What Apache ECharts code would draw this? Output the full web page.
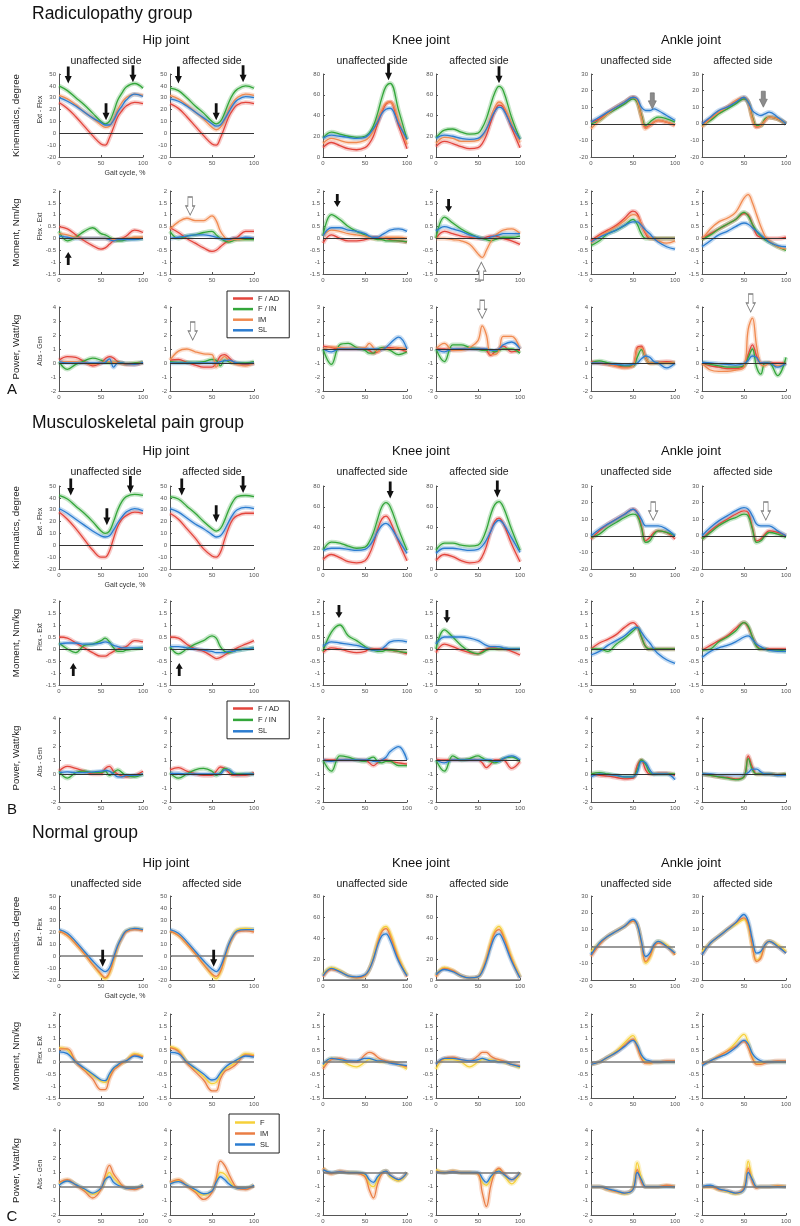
<!DOCTYPE html>
<html><head><meta charset="utf-8">
<script src="https://cdn.jsdelivr.net/npm/echarts@6/dist/echarts.min.js"></script>
<style>html,body{margin:0;padding:0;background:#fff}#c{width:800px;height:1226px}</style>
</head><body><div id="c"></div><script>
// ---------- x grid (gait cycle, %) ----------
const gaitPct = [0,10,20,30,40,50,55,60,65,70,75,80,90,100];

// ---------- tick labels ----------
const ticksGait = [0,50,100];
const ticksHipKin = [-20,-10,0,10,20,30,40,50];
const ticksKneeKin = [0,20,40,60,80];
const ticksAnkleKin = [-20,-10,0,10,20,30];
const ticksMoment = [-1.5,-1,-0.5,0,0.5,1,1.5,2];
const ticksHipPow = [-2,-1,0,1,2,3,4];
const ticksKneePow = [-3,-2,-1,0,1,2,3];
const ticksAnklePow = [-2,-1,0,1,2,3,4];

// ---------- series names ----------
const namesA = ['F / AD','F / IN','IM','SL'];
const namesB = ['F / AD','F / IN','SL'];
const namesC = ['F','IM','SL'];

// ===== Group A (Radiculopathy): rows in order F/AD, F/IN, IM, SL =====
const A_kin_hipU = [
 [26,21,14,6,-2,-9,-10,-4,5,14,19,23,26,25],
 [40,36,30,24,17,10,8,10,18,28,34,39,42,38],
 [32,29,24,18,13,7,5,6,12,20,26,30,33,32],
 [30,27,23,18,13,9,7,7,11,18,23,28,33,31]];
const A_kin_hipA = [
 [25,21,14,6,-2,-9,-10,-4,5,14,20,24,26,25],
 [38,36,30,23,17,10,8,10,17,26,33,37,40,38],
 [32,29,24,18,12,5,3,5,11,20,26,30,33,32],
 [29,27,23,18,13,8,6,7,12,18,24,28,31,30]];
const A_kin_kneeU = [
 [9,14,11,8,7,9,13,20,32,43,51,53,30,8],
 [18,24,22,20,19,20,23,30,42,57,68,71,45,17],
 [13,18,16,14,14,16,19,25,35,45,52,53,35,12],
 [18,21,20,19,18,19,22,27,34,42,46,47,32,17]];
const A_kin_kneeA = [
 [10,15,13,10,8,9,13,21,33,44,50,48,28,9],
 [18,26,27,24,22,23,28,37,50,62,68,64,38,17],
 [13,19,18,15,15,16,20,27,38,48,53,50,32,14],
 [18,21,20,18,17,18,21,27,36,44,48,46,30,17]];
const A_kin_ankU = [
 [1,3,7,10,13,16,14,5,-2,-1,1,2,1,-1],
 [0,2,6,9,12,15,13,5,-1,1,3,4,3,1],
 [-3,2,6,10,13,16,14,4,-3,-1,1,2,1,-1],
 [1,4,7,10,13,16,15,10,8,8,9,8,5,2]];
const A_kin_ankA = [
 [0,3,7,10,13,15,13,4,-2,-1,2,4,3,0],
 [-1,2,6,9,12,15,13,4,-1,-1,3,4,3,0],
 [-2,3,7,10,14,16,13,3,-2,-1,2,4,3,0],
 [0,4,8,10,13,16,13,8,6,5,6,7,4,0]];
const A_mom_hipU = [
 [0.5,0.4,0.15,-0.1,-0.3,-0.45,-0.4,-0.25,-0.1,-0.05,0,0.1,0.35,0.25],
 [0.3,-0.1,0.05,0.3,0.45,0.2,0.15,0.05,-0.05,-0.1,-0.1,-0.05,0,0],
 [0.2,0.15,0.05,0,0,0,0,-0.05,-0.05,-0.05,0,0,0.05,0.05],
 [0.1,0.05,0,0,0,0,0,-0.05,-0.1,-0.05,-0.05,-0.05,-0.05,0]];
const A_mom_hipA = [
 [0.45,0.25,0,-0.2,-0.4,-0.55,-0.5,-0.35,-0.2,-0.1,0,0.05,0.3,0.3],
 [0.3,0,0.1,0.15,0.25,0.3,0.15,0,-0.1,-0.15,-0.1,-0.05,-0.05,-0.05],
 [0.4,0.7,0.85,0.75,0.75,0.95,0.75,0.3,0.05,-0.1,-0.05,-0.05,0,0],
 [0,0.05,0.1,0.15,0.15,0.1,0.05,0,-0.05,-0.05,0,0,0.05,0]];
const A_mom_kneeU = [
 [-0.2,0.15,0,-0.1,-0.1,-0.05,0,0.05,0.05,0,0,-0.05,-0.1,-0.15],
 [0.1,1.0,0.8,0.5,0.3,0.15,0.05,0,-0.05,-0.05,-0.1,-0.1,-0.1,-0.15],
 [0.1,0.35,0.3,0.2,0.15,0.1,0.05,0,0,0,0.05,0.05,0.05,0],
 [0.1,0.45,0.45,0.35,0.3,0.2,0.1,0.05,0.05,0.15,0.25,0.35,0.4,0.3]];
const A_mom_kneeA = [
 [0,0.3,0.2,0.1,0.05,0,0,0.05,0.1,0.1,0.05,0,-0.1,-0.25],
 [0,0.9,0.65,0.4,0.2,0.05,0,-0.05,-0.1,-0.05,0,0.05,0.05,0.1],
 [0,0,-0.05,-0.1,-0.25,-0.65,-0.8,-0.5,-0.15,0.1,0.25,0.35,0.4,0.2],
 [0.3,0.5,0.4,0.3,0.15,0.05,0,0,0.05,0.1,0.15,0.2,0.2,0.2]];
const A_mom_ankU = [
 [-0.1,0.15,0.35,0.55,0.85,1.15,1.05,0.6,0.2,0,0,0,0,0],
 [-0.3,-0.1,0.2,0.35,0.55,0.8,0.6,0.2,0,0,0,0,0,0],
 [-0.2,0.1,0.3,0.5,0.75,1.0,0.95,0.6,0.25,0.05,0,-0.1,-0.2,-0.1],
 [-0.15,0.05,0.2,0.35,0.55,0.7,0.7,0.55,0.35,0.2,0,-0.15,-0.35,-0.45]];
const A_mom_ankA = [
 [0,0.2,0.4,0.6,0.8,1.05,1.0,0.6,0.15,0.05,0,0,0,0.05],
 [-0.05,0.15,0.4,0.6,0.8,1.1,0.95,0.6,0.3,0.1,-0.05,-0.15,-0.35,-0.5],
 [-0.05,0.4,0.7,0.85,1.1,1.7,1.85,1.5,1.0,0.5,0.1,-0.1,-0.35,-0.45],
 [-0.35,-0.1,0.15,0.3,0.5,0.65,0.6,0.45,0.3,0.15,0,-0.15,-0.3,-0.35]];
const A_pow_hipU = [
 [0.2,0.45,0.4,0.1,-0.2,0,0.3,0.45,0.35,0.1,0,-0.1,-0.1,0.05],
 [0.1,-0.45,-0.1,0.15,0.35,0.2,0.05,0,0.05,0.05,0,-0.05,0,0.05],
 [0.1,0.1,0.1,0,-0.1,0,0.1,0.1,0.05,0,-0.05,-0.05,-0.05,0],
 [0.1,0,0,0,0,0,0.05,0.3,-0.3,0,0,-0.05,-0.1,0.05]];
const A_pow_hipA = [
 [0.2,0.25,0.05,-0.15,-0.3,-0.3,0,0.5,0.6,0.4,0.1,-0.05,-0.1,0],
 [0.1,0.05,0.05,0.05,0.1,0.25,0.2,-0.2,0.2,0.1,0,0,0,0.1],
 [0.2,0.85,1.0,0.8,0.65,0.6,-0.3,0.2,0.45,0.2,0,-0.1,-0.2,0],
 [0,0,0,0,0,0,0,0.1,0.15,0.2,0.1,0,-0.05,0]];
const A_pow_kneeU = [
 [0.2,0.1,0,0,0,0,-0.1,-0.3,-0.2,0,0.1,0.1,0,-0.2],
 [0,-1.1,0.3,0.4,0.1,-0.1,-0.3,-0.3,0,0.1,0,-0.1,-0.4,-0.2],
 [0,0.15,0.1,0.05,0.05,0.1,0.4,0.1,-0.2,0,0,0,0.1,0],
 [0,-0.2,0,0,0,0,0,0,0,-0.05,0.1,0.4,0.85,0]];
const A_pow_kneeA = [
 [0,0,-0.05,0,0,0,0,-0.1,-0.45,-0.2,0,0.2,-0.2,-0.1],
 [0,-0.9,0.3,0.3,0.1,0,-0.1,-0.1,-0.1,-0.2,-0.1,0,0,-0.3],
 [0,0.4,-0.1,-0.1,0.1,0.6,1.65,1.0,-0.4,-0.4,-0.1,0.9,0.9,0],
 [0,-0.2,0,0,0,0,0,0,-0.1,-0.1,0,0.3,0.5,0]];
const A_pow_ankU = [
 [0.1,0,-0.1,-0.2,-0.3,-0.2,1.1,1.2,0.4,0,0,0.05,0.1,0],
 [0,0.15,0,-0.1,-0.2,-0.2,0.4,0.95,0.4,0,0,0,0,0],
 [0,0,-0.1,-0.25,-0.35,-0.2,1.0,1.1,0.4,0,0,0,0,0],
 [0,0,-0.05,-0.1,-0.15,-0.1,0,0.3,0.5,0.4,0.1,0,-0.35,0]];
const A_pow_ankA = [
 [0,-0.2,-0.3,-0.4,-0.4,-0.2,0.6,1.3,0.5,0,0,0,0,0],
 [0,-0.1,-0.2,-0.3,-0.3,-0.2,0.4,1.0,-0.3,-0.8,0,0,-0.9,0.4],
 [0,-0.5,-0.6,-0.6,-0.5,-0.3,2.4,3.2,1.2,-0.1,-0.2,0,-0.2,0],
 [0.05,0,-0.05,-0.1,-0.15,-0.05,0.2,0.5,0.4,0,0,0,-0.3,0]];

// ===== Group B (Musculoskeletal pain): rows F/AD, F/IN, SL =====
const B_kin_hipU = [
 [28,22,14,5,-4,-10,-10,-5,6,16,22,25,28,27],
 [42,39,33,27,20,12,10,12,20,30,37,41,43,42],
 [31,27,22,17,12,8,7,8,13,19,24,28,31,29]];
const B_kin_hipA = [
 [27,22,14,6,-3,-9,-10,-6,5,15,22,25,27,27],
 [41,39,33,27,20,14,12,14,21,30,37,41,42,41],
 [31,28,23,18,14,9,7,8,13,20,26,30,32,31]];
const B_kin_kneeU = [
 [9,14,11,7,6,8,14,24,38,48,51,46,26,8],
 [18,26,25,22,20,21,26,35,48,60,64,60,38,18],
 [18,20,20,19,18,19,22,28,36,42,44,41,28,15]];
const B_kin_kneeA = [
 [8,14,12,8,6,7,12,22,36,46,49,44,24,7],
 [18,25,25,23,22,23,28,38,52,62,65,60,38,18],
 [15,20,20,19,18,19,22,28,36,44,47,44,30,16]];
const B_kin_ankU = [
 [-2,3,7,10,13,16,14,6,-3,-1,2,3,2,-2],
 [-1,1,5,8,11,13,12,5,-4,-3,1,3,2,0],
 [0,4,7,10,13,16,14,10,6,6,6,6,4,0]];
const B_kin_ankA = [
 [-2,3,7,10,13,15,14,5,-3,-2,1,3,2,0],
 [-2,2,6,9,11,13,12,4,-4,-3,0,2,1,-1],
 [0,5,9,12,15,17,16,12,7,6,6,6,3,0]];
const B_mom_hipU = [
 [0.5,0.45,0.25,0.05,-0.15,-0.3,-0.3,-0.2,-0.1,0,0.05,0.1,0.35,0.3],
 [0.25,0,-0.15,0.15,0.2,0.35,0.45,0.3,0.05,-0.1,-0.1,-0.05,0,0.05],
 [0.2,0.25,0.25,0.2,0.2,0.25,0.3,0.25,0.15,0.1,0.05,0.05,0.05,0.05]];
const B_mom_hipA = [
 [0.5,0.45,0.2,0,-0.1,-0.3,-0.4,-0.35,-0.25,-0.15,-0.05,0.05,0.2,0.35],
 [0.1,-0.2,0,0.2,0.35,0.55,0.45,0.1,-0.1,-0.15,-0.1,-0.05,0,0.05],
 [0.1,0.1,0.05,0,-0.05,-0.1,-0.15,-0.15,-0.15,-0.1,-0.1,-0.05,0,0.05]];
const B_mom_kneeU = [
 [-0.15,0.05,0,-0.1,-0.15,-0.1,0,0,0,0,0,-0.05,-0.1,-0.2],
 [-0.1,0.7,1.0,0.55,0.35,0.1,0,-0.05,-0.1,-0.1,-0.05,-0.05,-0.1,-0.15],
 [0.1,0.3,0.25,0.2,0.15,0.05,0,-0.05,-0.05,0,0.15,0.3,0.35,0.3]];
const B_mom_kneeA = [
 [-0.15,0.2,0.1,-0.05,-0.15,-0.2,-0.1,0,0.05,0.05,0,0,-0.1,-0.25],
 [0,0.8,0.5,0.15,-0.1,-0.2,-0.15,-0.05,0,0,0,0,0,0],
 [0.2,0.5,0.5,0.5,0.45,0.35,0.25,0.15,0.1,0.1,0.1,0.05,0,0]];
const B_mom_ankU = [
 [0,0.25,0.4,0.6,0.9,1.1,0.95,0.5,0.1,0,0,0,0,0],
 [0,0,-0.1,0.2,0.45,0.75,0.9,0.5,0.1,0,0,0,0,0],
 [-0.25,-0.1,0.15,0.35,0.55,0.85,0.9,0.7,0.45,0.25,0,-0.2,-0.45,-0.6]];
const B_mom_ankA = [
 [-0.05,0.15,0.35,0.55,0.85,1.1,0.9,0.5,0.15,0,0,0,0,0],
 [-0.05,0,0.3,0.5,0.75,1.1,0.95,0.5,0.1,0,0,-0.05,-0.05,-0.1],
 [-0.35,-0.1,0.05,0.15,0.3,0.5,0.55,0.4,0.2,0.1,0,-0.05,-0.1,-0.1]];
const B_pow_hipU = [
 [0.2,0.55,0.4,0.2,0,0,0.4,0.55,0.2,0,-0.15,-0.2,-0.1,0.2],
 [0.2,-0.3,0.1,0.2,0.1,0.1,0.2,-0.1,0.1,0.3,0.1,-0.1,-0.2,0],
 [0.1,0.15,0.1,0.1,0.15,0.2,0.25,0.2,0,-0.2,-0.2,-0.1,-0.1,0]];
const B_pow_hipA = [
 [0.3,0.45,0.2,0,-0.1,-0.1,0.2,0.5,0.4,0.1,-0.1,-0.1,-0.1,0.1],
 [0.1,-0.3,0,0.3,0.4,0.2,-0.1,0.1,0.4,0.3,0,0,0,0],
 [0.05,0.05,0,0,0,0,0,0,0.3,0.3,0.1,-0.05,0,0]];
const B_pow_kneeU = [
 [0,0,0,0,0,0,-0.2,-0.4,-0.2,0,0,-0.1,-0.2,-0.3],
 [0,-0.8,0.3,0.2,0,-0.1,0.1,0.2,-0.1,-0.2,-0.1,-0.1,-0.4,-0.4],
 [0,-0.1,0,0,0,0,0,-0.1,-0.1,0,0.2,0.6,0.95,0]];
const B_pow_kneeA = [
 [0.05,0,0,0,0,0,-0.2,-0.55,-0.3,0,0,0,-0.6,-0.1],
 [0,-0.8,0.3,0,0.1,0.3,0.15,0,-0.1,-0.2,-0.1,0.1,0.2,-0.1],
 [0,-0.2,0,0,0,0,0,0,0,-0.1,-0.1,0.1,0.3,0]];
const B_pow_ankU = [
 [0,-0.1,-0.15,-0.25,-0.35,-0.3,0.6,1.0,0.3,0,0,0.05,0.05,-0.1],
 [0,0.1,0,-0.1,-0.2,-0.2,0.3,1.0,0.7,0.1,0,0,0,0],
 [-0.2,0,-0.05,-0.1,-0.2,-0.2,0.1,0.9,0.8,0.3,0,0,0,-0.4]];
const B_pow_ankA = [
 [0,-0.1,-0.2,-0.25,-0.35,-0.2,1.3,0.5,0,0,0,0,-0.05,0],
 [0,-0.1,-0.2,-0.3,-0.4,-0.2,1.1,0.3,0,0,0,0,-0.05,0],
 [0,0,-0.05,-0.05,-0.05,-0.05,0.1,0.35,0.35,0.15,0,0,-0.1,-0.1]];

// ===== Group C (Normal): rows F, IM, SL =====
const C_kin_hipU = [
 [21,17,10,2,-7,-16,-19,-15,-4,8,16,21,23,22],
 [21,17,10,2,-7,-15,-18,-14,-3,8,15,20,22,21],
 [22,19,12,4,-4,-11,-13,-10,-1,9,16,21,23,22]];
const C_kin_hipA = [
 [21,17,10,2,-7,-16,-19,-14,-3,9,17,22,23,22],
 [21,17,10,2,-7,-15,-17,-13,-2,9,16,20,21,20],
 [22,19,12,4,-4,-11,-13,-9,0,10,17,21,22,22]];
const C_kin_kneeU = [
 [5,12,9,4,2,4,10,22,37,48,51,45,22,5],
 [3,10,8,4,2,4,10,20,35,46,49,42,20,3],
 [4,11,8,4,3,5,10,20,33,42,44,38,18,4]];
const C_kin_kneeA = [
 [4,12,9,4,2,3,10,21,36,47,51,44,22,3],
 [3,11,9,4,2,3,9,20,34,45,48,42,20,2],
 [5,10,8,4,2,3,8,18,31,41,44,38,18,2]];
const C_kin_ankU = [
 [-3,2,6,9,12,15,13,2,-10,-7,0,3,1,-5],
 [-6,1,6,9,12,15,13,2,-9,-6,0,2,0,-5],
 [-5,2,6,9,12,16,13,3,-6,-4,1,3,0,-4]];
const C_kin_ankA = [
 [-3,2,6,10,13,16,12,0,-8,-6,1,3,1,-3],
 [-5,2,6,10,14,17,13,0,-9,-7,1,3,0,-4],
 [-5,2,6,10,14,19,15,4,-4,-3,1,3,0,-4]];
const C_mom_hipU = [
 [0.6,0.5,0,-0.3,-0.55,-0.8,-0.85,-0.6,-0.3,-0.15,-0.05,0.05,0.35,0.25],
 [0.55,0.55,0,-0.35,-0.7,-1.15,-1.15,-0.7,-0.35,-0.2,-0.05,0.05,0.3,0.2],
 [0.42,0.35,0,-0.25,-0.5,-0.75,-0.78,-0.5,-0.25,-0.12,0,0.05,0.25,0.15]];
const C_mom_hipA = [
 [0.65,0.5,0,-0.3,-0.6,-0.9,-0.85,-0.55,-0.3,-0.2,-0.1,0.05,0.35,0.3],
 [0.6,0.45,-0.05,-0.4,-0.75,-1.2,-1.2,-0.7,-0.4,-0.3,-0.2,-0.05,0.3,0.25],
 [0.4,0.35,0,-0.25,-0.5,-0.75,-0.7,-0.45,-0.25,-0.1,0,0.1,0.25,0.2]];
const C_mom_kneeU = [
 [-0.2,0.15,0.1,-0.1,-0.2,0,0.1,0.1,0.05,0,0,0,-0.1,-0.3],
 [-0.3,0.1,0.15,0.05,0,0.3,0.4,0.35,0.2,0.1,0.05,0,-0.1,-0.2],
 [-0.1,0.15,0.1,0.05,0.05,0.15,0.15,0.1,0.05,0.05,0,-0.05,-0.1,-0.15]];
const C_mom_kneeA = [
 [-0.3,0.1,0.1,0,-0.2,0,0.1,0.1,0.1,0.05,0.05,0,-0.1,-0.25],
 [-0.1,0.15,0.2,0.1,0.05,0.25,0.4,0.4,0.25,0.15,0.1,0.05,-0.1,-0.15],
 [-0.1,0.15,0.15,0.1,0.05,0.1,0.15,0.1,0.05,0.05,0,0,-0.1,-0.2]];
const C_mom_ankU = [
 [-0.1,0,0.2,0.45,0.8,1.1,0.7,0.2,0,-0.05,0,0,0,0],
 [-0.1,0,0.2,0.4,0.7,0.95,0.6,0.15,-0.05,-0.05,0,0,0.05,0.05],
 [-0.1,0,0.2,0.4,0.65,0.9,0.7,0.3,0.1,0.05,0,0,0,0]];
const C_mom_ankA = [
 [-0.1,0.05,0.25,0.45,0.8,1.15,0.8,0.2,-0.05,-0.05,0,0,0,0],
 [-0.1,0.05,0.25,0.45,0.65,0.85,0.6,0.15,-0.1,-0.1,-0.05,0,0.05,0.05],
 [-0.15,0.05,0.2,0.35,0.6,0.9,0.75,0.35,0.15,0.05,0,0,0,0]];
const C_pow_hipU = [
 [0.2,0.45,0.15,-0.2,-0.55,-0.15,0.5,1.0,0.6,0.3,0.05,-0.1,-0.1,0.1],
 [0.3,0.5,0.1,-0.3,-0.8,-0.2,0.8,1.5,0.9,0.5,0.1,-0.1,-0.2,0.1],
 [0.1,0.4,0.15,-0.15,-0.45,-0.1,0.5,0.7,0.3,0.1,0,-0.1,-0.1,0.1]];
const C_pow_hipA = [
 [0.25,0.45,0.1,-0.3,-0.6,-0.3,0.4,1.0,0.9,0.5,0.1,-0.1,-0.1,0.1],
 [0.3,0.5,0.05,-0.4,-0.9,-0.4,0.6,1.8,1.5,0.9,0.3,-0.1,-0.2,0.1],
 [0.2,0.35,0.1,-0.2,-0.5,-0.3,0.3,0.7,0.5,0.2,0,-0.1,-0.1,0.1]];
const C_pow_kneeU = [
 [0.3,-0.05,0.05,0,0,-0.2,-0.8,-1.0,-0.5,0,0.1,-0.3,-0.6,0],
 [0.3,-0.1,0.1,0,-0.05,-0.3,-1.2,-1.8,-0.8,-0.1,0.1,-0.2,-0.5,0],
 [0.2,0,0.05,0,0,-0.1,-0.5,-0.7,-0.3,0,0.1,-0.2,-0.5,0]];
const C_pow_kneeA = [
 [0.2,0,0.1,0,0,-0.1,-0.7,-0.9,-0.5,0,0.2,-0.1,-0.8,0],
 [0.1,0,0.1,0,0,-0.1,-1.4,-2.4,-1.0,0,0.3,0,-0.5,0],
 [0.05,0,0.05,0,0,0,-0.4,-0.7,-0.3,0,0.1,-0.1,-0.5,0]];
const C_pow_ankU = [
 [0,0,-0.2,-0.35,-0.5,-0.1,1.7,0.6,0,0,0,0,0.05,0],
 [0,0,-0.2,-0.35,-0.45,-0.15,1.2,0.3,0,0,0,0,0.1,0],
 [0,0,-0.15,-0.3,-0.45,-0.2,1.0,0.5,0,0,0,0,0,0]];
const C_pow_ankA = [
 [0,0,-0.2,-0.35,-0.5,-0.1,1.8,0.5,0,0,0,0,0.05,0],
 [0,0,-0.2,-0.3,-0.45,-0.1,1.3,0.3,-0.1,0,0,0,0.05,0],
 [0,0.1,-0.15,-0.3,-0.45,-0.2,1.0,0.5,0,0,0,0,0,0]];

// ---------- arrow annotations: [group, row, col, gait %, value, kind] ----------
const arrowNotes = [
 [0,0,0,11,42,'down'],[0,0,0,56,11,'down'],[0,0,0,88,43,'down'],
 [0,0,1,10,42,'down'],[0,0,1,55,11,'down'],[0,0,1,87,43,'down'],
 [0,0,2,78,74,'down'],[0,0,3,75,71,'down'],
 [0,0,4,73,9,'grey'],[0,0,5,73,10,'grey'],
 [0,1,0,11,-0.57,'up'],[0,1,1,24,0.99,'hollowDown'],
 [0,1,2,17,1.33,'down'],[0,1,3,15,1.11,'down'],[0,1,3,54,-1.0,'hollowUp'],
 [0,1,5,55,2.17,'hollowDown'],
 [0,2,1,27,1.64,'hollowDown'],[0,2,3,55,2.2,'hollowDown'],[0,2,5,58,3.64,'hollowDown'],
 [1,0,0,14,42,'down'],[1,0,0,57,17,'down'],[1,0,0,85,44,'down'],
 [1,0,1,14,42,'down'],[1,0,1,55,19.5,'down'],[1,0,1,87,44,'down'],
 [1,0,2,80,68,'down'],[1,0,3,73,69,'down'],
 [1,0,4,74,9.5,'hollowDown'],[1,0,5,76,9.5,'hollowDown'],
 [1,1,0,17,-0.58,'up'],[1,1,1,11,-0.58,'up'],
 [1,1,2,19,1.29,'down'],[1,1,3,13,1.08,'down'],
 [2,0,0,52,-9,'down'],[2,0,1,52,-9,'down']
];

// ---------- text ----------
const groupTitles = ['Radiculopathy group','Musculoskeletal pain group','Normal group'];
const groupLetters = ['A','B','C'];
const jointTitles = ['Hip joint','Knee joint','Ankle joint'];
const sideTitles = ['unaffected side','affected side'];
const rowLabels = ['Kinematics, degree','Moment, Nm/kg','Power, Watt/kg'];
const rowSubLabels = ['Ext - Flex','Flex - Ext','Abs - Gen'];
const xAxisLabel = 'Gait cycle, %';

// ================= build =================
const FONT = '"Liberation Sans", Arial, Helvetica, sans-serif';
const RED='#e3453c', GREEN='#33a63a', ORANGE='#f08a50', BLUE='#2b7cd0', YELLOW='#f6d03a', ORANGE_C='#ea7e45';

const table = [
 [[A_kin_hipU,A_kin_hipA,A_kin_kneeU,A_kin_kneeA,A_kin_ankU,A_kin_ankA],
  [A_mom_hipU,A_mom_hipA,A_mom_kneeU,A_mom_kneeA,A_mom_ankU,A_mom_ankA],
  [A_pow_hipU,A_pow_hipA,A_pow_kneeU,A_pow_kneeA,A_pow_ankU,A_pow_ankA]],
 [[B_kin_hipU,B_kin_hipA,B_kin_kneeU,B_kin_kneeA,B_kin_ankU,B_kin_ankA],
  [B_mom_hipU,B_mom_hipA,B_mom_kneeU,B_mom_kneeA,B_mom_ankU,B_mom_ankA],
  [B_pow_hipU,B_pow_hipA,B_pow_kneeU,B_pow_kneeA,B_pow_ankU,B_pow_ankA]],
 [[C_kin_hipU,C_kin_hipA,C_kin_kneeU,C_kin_kneeA,C_kin_ankU,C_kin_ankA],
  [C_mom_hipU,C_mom_hipA,C_mom_kneeU,C_mom_kneeA,C_mom_ankU,C_mom_ankA],
  [C_pow_hipU,C_pow_hipA,C_pow_kneeU,C_pow_kneeA,C_pow_ankU,C_pow_ankA]]
];
const yTicks = [
 [ticksHipKin,ticksKneeKin,ticksAnkleKin],
 [ticksMoment,ticksMoment,ticksMoment],
 [ticksHipPow,ticksKneePow,ticksAnklePow]
];

const colLeft = [59,170,323,436,591,702];
const colW = 84;
const jointCenter = [166,421,691];
const sideCenter = [106,212,372,479,636,743];

const groups = [
 {names:namesA, colors:[RED,GREEN,ORANGE,BLUE], titleY:14, jointY:40, sideY:61,
  rows:[[74,83],[191,83],[307,84]], letterY:390,
  legend:{left:227, top:291, padding:[3,10,3,6], itemGap:1.6},
  zero:{color:'#333', width:1}},
 {names:namesB, colors:[RED,GREEN,BLUE], titleY:423, jointY:451, sideY:472,
  rows:[[486,83],[601,84],[718,84]], letterY:810,
  legend:{left:227, top:701, padding:[3,10,3,6], itemGap:2.4},
  zero:{color:'#333', width:1}},
 {names:namesC, colors:[YELLOW,ORANGE_C,BLUE], titleY:833, jointY:863, sideY:884,
  rows:[[896,84],[1014,84],[1130,85]], letterY:1217,
  legend:{left:229, top:1114, padding:[4,10,4,6], itemGap:2},
  zero:{color:'#777', width:1.5}}
];

const ARROWS = {
 down:{path:'path://M3,0L7,0L7,10L10,10L5,18L0,10L3,10Z', fill:'#111', stroke:'#111', bw:0, dir:-1},
 up:{path:'path://M5,0L10,8L7,8L7,18L3,18L3,8L0,8Z', fill:'#111', stroke:'#111', bw:0, dir:1},
 hollowDown:{path:'path://M2.5,0L7.5,0L7.5,9L10,9L5,18L0,9L2.5,9Z', fill:'#ffffff', stroke:'#808080', bw:1, dir:-1},
 hollowUp:{path:'path://M5,0L10,9L7.5,9L7.5,18L2.5,18L2.5,9L0,9Z', fill:'#ffffff', stroke:'#808080', bw:1, dir:1},
 grey:{path:'path://M2.5,0L7.5,0L7.5,9L10,9L5,18L0,9L2.5,9Z', fill:'#8c8c8c', stroke:'#6a6a6a', bw:0.6, dir:-1}
};
function arrowSize(kind,row){
 if(kind==='hollowDown'||kind==='hollowUp') return [9,18];
 if(kind==='grey') return [8,16];
 return row===0 ? [7,17] : [7,13];
}

const grids=[], xAxes=[], yAxes=[], series=[], graphics=[], legends=[];
function txt(x,y,s,size,o){
 o=o||{};
 return {type:'text', x:x, y:y, rotation:o.rot||0, silent:true, z:10,
  style:{text:s, fill:o.color||'#1a1a1a', fontSize:size, fontFamily:FONT, fontWeight:o.weight||'normal',
   textAlign:o.align||'center', textVerticalAlign:'middle', align:o.align||'center', verticalAlign:'middle'}};
}

groups.forEach((G,gi)=>{
 graphics.push(txt(32,G.titleY,groupTitles[gi],17.5,{align:'left',color:'#111'}));
 jointTitles.forEach((t,j)=>graphics.push(txt(jointCenter[j],G.jointY,t,13,{color:'#111'})));
 sideCenter.forEach((cx,c)=>graphics.push(txt(cx,G.sideY,sideTitles[c%2],10.5,{color:'#1a1a1a'})));
 G.rows.forEach((rw,r)=>{
  const cy = rw[0]+rw[1]/2;
  graphics.push(txt(16,cy-(r===2?2:0),rowLabels[r],9.7,{rot:Math.PI/2,color:'#222'}));
  graphics.push(txt(40,cy+(r===2?2:-6),rowSubLabels[r],6.5,{rot:Math.PI/2,color:'#333'}));
 });
 graphics.push(txt(125,G.rows[0][0]+G.rows[0][1]+16,xAxisLabel,7,{color:'#333'}));
 graphics.push(txt(12,G.letterY,groupLetters[gi],15,{color:'#111'}));

 legends.push({show:true, orient:'vertical', left:G.legend.left, top:G.legend.top,
  padding:G.legend.padding, itemGap:G.legend.itemGap, itemWidth:20, itemHeight:2.5, icon:'rect',
  borderColor:'#222', borderWidth:1, backgroundColor:'#fff', selectedMode:false,
  data:G.names.map((n,k)=>({name:n, itemStyle:{color:G.colors[k]}})),
  textStyle:{fontSize:7.5, color:'#222', fontFamily:FONT, lineHeight:9}});

 G.rows.forEach((rw,r)=>{
  for(let c=0;c<6;c++){
   const idx = grids.length;
   grids.push({left:colLeft[c], top:rw[0], width:colW, height:rw[1], containLabel:false, outerBoundsMode:'none'});
   xAxes.push({gridIndex:idx, type:'value', min:ticksGait[0], max:ticksGait[ticksGait.length-1],
    interval:ticksGait[1]-ticksGait[0],
    axisLine:{show:true, onZero:false, lineStyle:{color:'#555', width:1}},
    axisTick:{show:true, inside:true, length:2, lineStyle:{color:'#555'}},
    axisLabel:{fontSize:6, color:'#555', margin:3, fontFamily:FONT}, splitLine:{show:false}});
   const t = yTicks[r][Math.floor(c/2)];
   yAxes.push({gridIndex:idx, type:'value', min:t[0], max:t[t.length-1], interval:t[1]-t[0],
    axisLine:{show:true, onZero:false, lineStyle:{color:'#555', width:1}},
    axisTick:{show:true, inside:true, length:2, lineStyle:{color:'#555'}},
    axisLabel:{fontSize:6, color:'#555', margin:3, fontFamily:FONT}, splitLine:{show:false}});
   const panel = table[gi][r][c];
   panel.forEach((vals,k)=>{
    series.push({type:'line', name:G.names[k]+' band', xAxisIndex:idx, yAxisIndex:idx,
     data:gaitPct.map((x,i)=>[x,vals[i]]), smooth:0.4, symbol:'none', silent:true, z:2,
     lineStyle:{width:4.5, color:G.colors[k], opacity:0.28}, itemStyle:{color:G.colors[k]},
     emphasis:{disabled:true}, animation:false});
   });
   const notes = arrowNotes.filter(a=>a[0]===gi&&a[1]===r&&a[2]===c);
   panel.forEach((vals,k)=>{
    const last = k===panel.length-1;
    const s = {type:'line', name:G.names[k], xAxisIndex:idx, yAxisIndex:idx,
     data:gaitPct.map((x,i)=>[x,vals[i]]), smooth:0.4, symbol:'none', z:3,
     lineStyle:{width:1.3, color:G.colors[k]}, itemStyle:{color:G.colors[k]},
     emphasis:{disabled:true}, animation:false};
    if(last){
     s.markLine = {silent:true, symbol:['none','none'], label:{show:false}, animation:false,
      lineStyle:{color:G.zero.color, width:G.zero.width, type:'solid'}, emphasis:{disabled:true},
      data:[{yAxis:0}]};
     if(notes.length){
      s.markPoint = {silent:true, animation:false, label:{show:false},
       data:notes.map(a=>{
        const A = ARROWS[a[5]]; const sz = arrowSize(a[5],r);
        return {coord:[a[3],a[4]], symbol:A.path, symbolSize:sz, symbolKeepAspect:false,
         symbolOffset:[0, A.dir*sz[1]/2],
         itemStyle:{color:A.fill, borderColor:A.stroke, borderWidth:A.bw}};
       })};
     }
    }
    series.push(s);
   });
  }
 });
});

const chart = echarts.init(document.getElementById('c'), null, {renderer:'canvas', width:800, height:1226});
chart.setOption({
 animation:false, backgroundColor:'#ffffff',
 textStyle:{fontFamily:FONT},
 grid:grids, xAxis:xAxes, yAxis:yAxes, series:series, legend:legends, graphic:graphics
});
</script></body></html>
